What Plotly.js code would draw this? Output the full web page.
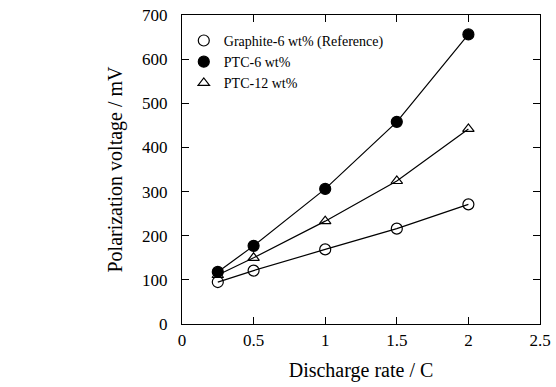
<!DOCTYPE html>
<html><head><meta charset="utf-8">
<script src="https://cdn.plot.ly/plotly-3.0.1.min.js"></script>
<style>body{margin:0;background:#fff}#c{width:556px;height:387px}</style>
</head><body><div id="c"></div>
<script>
const rates = [0.25, 0.5, 1.0, 1.5, 2.0];
const names = ['Graphite-6 wt% (Reference)', 'PTC-6 wt%', 'PTC-12 wt%'];
const graphite6 = [95, 121, 169, 216, 271];
const ptc6 = [118, 177, 306, 458, 656];
const ptc12 = [111, 150, 233, 324, 442];
const xTicks = [0, 0.5, 1, 1.5, 2, 2.5];
const xTickText = ['0', '0.5', '1', '1.5', '2', '2.5'];
const yTicks = [0, 100, 200, 300, 400, 500, 600, 700];

const series = [
  {y: graphite6, sym: 'circle-open', size: 11},
  {y: ptc6, sym: 'circle', size: 11},
  {y: ptc12, sym: 'triangle-up-open', size: 10}
];
const traces = [];
series.forEach((s, i) => {
  traces.push({x: rates, y: s.y, mode: 'lines', line: {color: '#000', width: 1.2}, showlegend: false, hoverinfo: 'skip'});
});
series.forEach((s, i) => {
  traces.push({x: rates, y: s.y, mode: 'markers', name: names[i],
    marker: {symbol: s.sym, size: s.size, color: '#000', line: {color: '#000', width: 1.2}}});
});
const FAM = 'Liberation Serif';
function f(size) { return {family: FAM, size: size, color: '#000'}; }
const layout = {
  width: 556, height: 387,
  margin: {l: 182, r: 16, t: 15, b: 63},
  paper_bgcolor: '#fff', plot_bgcolor: '#fff',
  font: f(15),
  showlegend: true,
  legend: {x: 0.005, y: 0.968, xanchor: 'left', yanchor: 'top', bgcolor: 'rgba(0,0,0,0)',
    font: f(14), tracegroupgap: 0, itemwidth: 30},
  xaxis: {range: [0, 2.5], tickvals: xTicks, ticktext: xTickText, ticks: 'inside', ticklen: 7, tickcolor: '#000',
    mirror: 'ticks', showline: true, linecolor: '#000', linewidth: 1.2, showgrid: false, zeroline: false,
    tickfont: f(17),
    title: {text: 'Discharge rate / C', font: f(20), standoff: 14}},
  yaxis: {range: [0, 700], tickvals: yTicks, ticks: 'inside', ticklen: 7, tickcolor: '#000',
    mirror: 'ticks', showline: true, linecolor: '#000', linewidth: 1.2, showgrid: false, zeroline: false,
    tickfont: f(17), ticklabelstandoff: 10,
    title: {text: 'Polarization voltage / mV', font: f(20), standoff: 14}}
};
Plotly.newPlot('c', traces, layout, {staticPlot: true, displayModeBar: false});
</script></body></html>
